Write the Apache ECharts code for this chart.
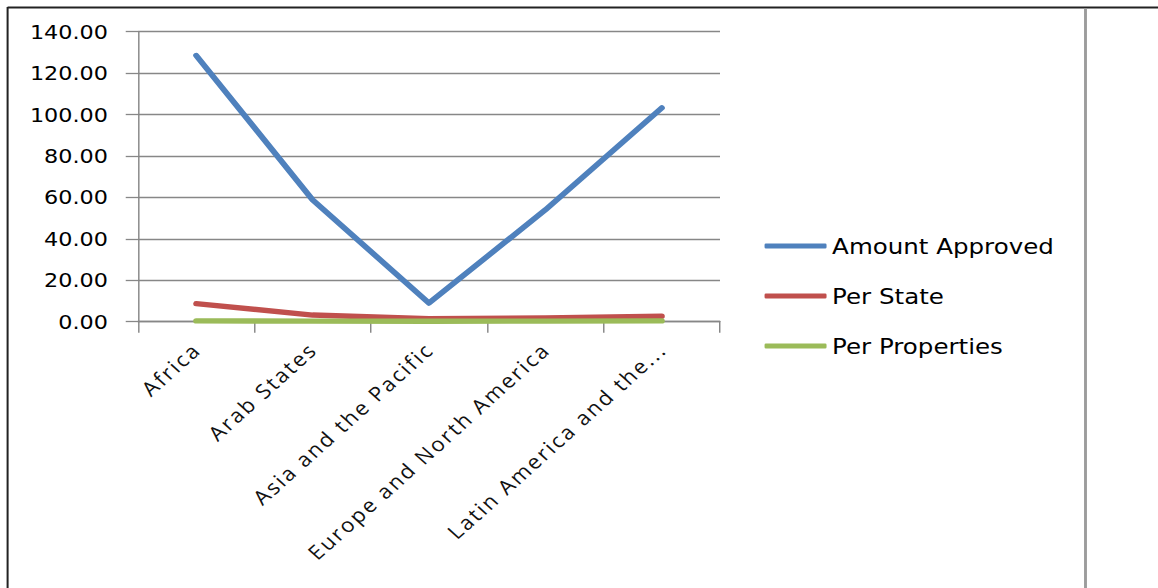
<!DOCTYPE html>
<html>
<head>
<meta charset="utf-8">
<script src="https://cdn.jsdelivr.net/npm/echarts@6/dist/echarts.min.js"></script>
<style>
  html, body { margin: 0; padding: 0; background: #fff; overflow: hidden; }
  #wrap { position: absolute; left: 0; top: 0; height: 588px; transform-origin: 0 0; }
  #chart text[style*="Open Sans"] { letter-spacing: 2px; }
</style>
</head>
<body>
<div id="wrap"><div id="chart" style="width:100%;height:588px;"></div></div>
<script>
const categories = ['Africa', 'Arab States', 'Asia and the Pacific', 'Europe and North America', 'Latin America and the...'];
const amountApproved = [128.5, 58.8, 9.0, 54.0, 103.2];
const perState = [8.7, 3.2, 1.4, 1.8, 2.6];
const perProperties = [0.4, 0.3, 0.2, 0.3, 0.4];
const seriesNames = ['Amount Approved', 'Per State', 'Per Properties'];
const yTicks = { min: 0, max: 140, interval: 20 };

const K = 1.115;              // horizontal stretch of the reference
const W = 1158 / K;
const wrap = document.getElementById('wrap');
wrap.style.width = W + 'px';
wrap.style.transform = 'scaleX(' + K + ')';

const chart = echarts.init(document.getElementById('chart'), null, { renderer: 'svg', width: W, height: 588 });
const gray = '#878787';
const gridLeft = 138 / K, gridRightX = 720 / K;

chart.setOption({
  animation: false,
  backgroundColor: '#ffffff',
  grid: { left: gridLeft, right: W - gridRightX, top: 31.7, bottom: 588 - 321.7, containLabel: false },
  legend: {
    orient: 'vertical', left: 764 / K - 4.5, top: 229,
    icon: 'roundRect',
    itemWidth: 62 / K, itemHeight: 5, itemGap: 26,
    textStyle: { fontFamily: 'DejaVu Sans', fontSize: 22, color: '#000', lineHeight: 24 },
    data: seriesNames
  },
  xAxis: {
    type: 'category', data: categories, boundaryGap: true,
    axisLine: { show: true, lineStyle: { color: gray, width: 1.3 } },
    axisTick: { show: true, interval: 0, length: 11, lineStyle: { color: gray, width: 1.3 } },
    axisLabel: { interval: 0, rotate: 45, margin: 24, fontFamily: 'Open Sans', fontSize: 20, color: '#111' },
    splitLine: { show: false }
  },
  yAxis: {
    type: 'value', min: yTicks.min, max: yTicks.max, interval: yTicks.interval,
    axisLine: { show: true, lineStyle: { color: gray, width: 1.3 } },
    axisTick: { show: true, length: 11, lineStyle: { color: gray, width: 1.3 } },
    axisLabel: { margin: 27, fontFamily: 'DejaVu Sans', fontSize: 20, color: '#000', formatter: v => v.toFixed(2) },
    splitLine: { show: true, lineStyle: { color: gray, width: 1.3 } }
  },
  series: [
    { name: seriesNames[0], type: 'line', data: amountApproved, symbol: 'none', color: '#4F81BD',
      lineStyle: { width: 5.4, color: '#4F81BD', cap: 'round', join: 'round' } },
    { name: seriesNames[1], type: 'line', data: perState, symbol: 'none', color: '#C0504D',
      lineStyle: { width: 5.4, color: '#C0504D', cap: 'round', join: 'round' } },
    { name: seriesNames[2], type: 'line', data: perProperties, symbol: 'none', color: '#9BBB59',
      lineStyle: { width: 5.4, color: '#9BBB59', cap: 'round', join: 'round' } }
  ],
  graphic: [
    { type: 'line', shape: { x1: 7.6 / K, y1: 7.6, x2: W, y2: 7.6 }, style: { stroke: '#222', lineWidth: 2 }, silent: true },
    { type: 'line', shape: { x1: 7.6 / K, y1: 7, x2: 7.6 / K, y2: 588 }, style: { stroke: '#222', lineWidth: 1.8 }, silent: true },
    { type: 'line', shape: { x1: 1085.5 / K, y1: 8.5, x2: 1085.5 / K, y2: 588 }, style: { stroke: '#9c9c9c', lineWidth: 2.6 }, silent: true }
  ]
});
</script>
</body>
</html>
